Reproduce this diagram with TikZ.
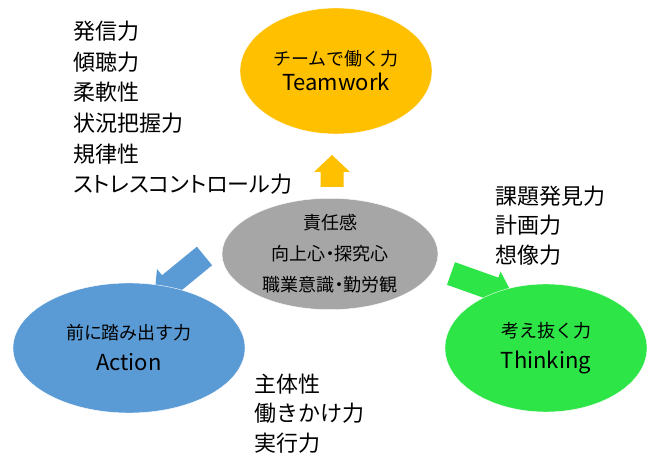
\documentclass[tikz,border=0pt]{standalone}
\usepackage{fontspec}
\setmainfont{Noto Sans CJK JP}
\newfontfamily\palfont{Noto Sans CJK JP}[RawFeature=+palt]
\usetikzlibrary{shapes.geometric}
\definecolor{teamcol}{HTML}{FFC000}
\definecolor{corecol}{HTML}{A6A6A6}
\definecolor{actcol}{HTML}{5B9BD5}
\definecolor{thinkcol}{HTML}{2EE548}
\newcommand{\eng}[1]{{\fontsize{22}{31}\selectfont #1}}
\tikzstyle{ebox}=[ellipse, draw=white, thin, inner sep=0pt, text centered,
                  align=center, font=\fontsize{18}{31}\selectfont]
\tikzstyle{lbox}=[inner sep=0pt, align=left, anchor=north west,
                  font=\fontsize{22}{29.5}\selectfont]

\begin{document}
\begin{tikzpicture}[x=1pt,y=1pt]
\useasboundingbox (0,0) rectangle (649,455);

% block arrows, under the ellipses
\coordinate (UPTAIL) at (332,268);
\coordinate (LTAIL) at (204.5,199);
\coordinate (RTAIL) at (451,181.5);
\fill[teamcol, shift={(UPTAIL)}, rotate=90]
  (0,-11.5) -- (15,-11.5) -- (15,-18) -- (32,0) -- (15,18) -- (15,11.5) -- (0,11.5) -- cycle;
\fill[actcol, shift={(LTAIL)}, rotate=219.3]
  (0,-12) -- (45,-12) -- (45,-20) -- (65,0) -- (45,20) -- (45,12) -- (0,12) -- cycle;
\fill[thinkcol, shift={(RTAIL)}, rotate=-19.6]
  (0,-12) -- (46,-12) -- (46,-18.5) -- (66,0) -- (46,18.5) -- (46,12) -- (0,12) -- cycle;

\node (TEAM) [ebox, fill=teamcol, minimum width=192pt, minimum height=126pt] at (336,384)
  {チームで働く力\\[-6pt]\eng{Teamwork}};
\node (CORE) [ebox, fill=corecol, minimum width=216pt, minimum height=104pt,
              font=\fontsize{18}{31}\palfont] at (330,201)
  {責任感\\向上心・探究心\\職業意識・勤労観};
\node (ACTION) [ebox, fill=actcol, minimum width=232pt, minimum height=130pt] at (129,107)
  {前に踏み出す力\\\eng{Action}};
\node (THINK) [ebox, fill=thinkcol, minimum width=202pt, minimum height=128pt] at (546,107)
  {考え抜く力\\\eng{Thinking}};

\node (TEAMLIST) [lbox, font=\fontsize{22}{30.6}\palfont] at (73,434)
  {発信力\\傾聴力\\柔軟性\\状況把握力\\規律性\\ストレスコントロール力};
\node (THINKLIST) [lbox] at (495,269.5) {課題発見力\\計画力\\想像力};
\node (ACTLIST) [lbox] at (254,81.5) {主体性\\働きかけ力\\実行力};

\end{tikzpicture}
\end{document}
